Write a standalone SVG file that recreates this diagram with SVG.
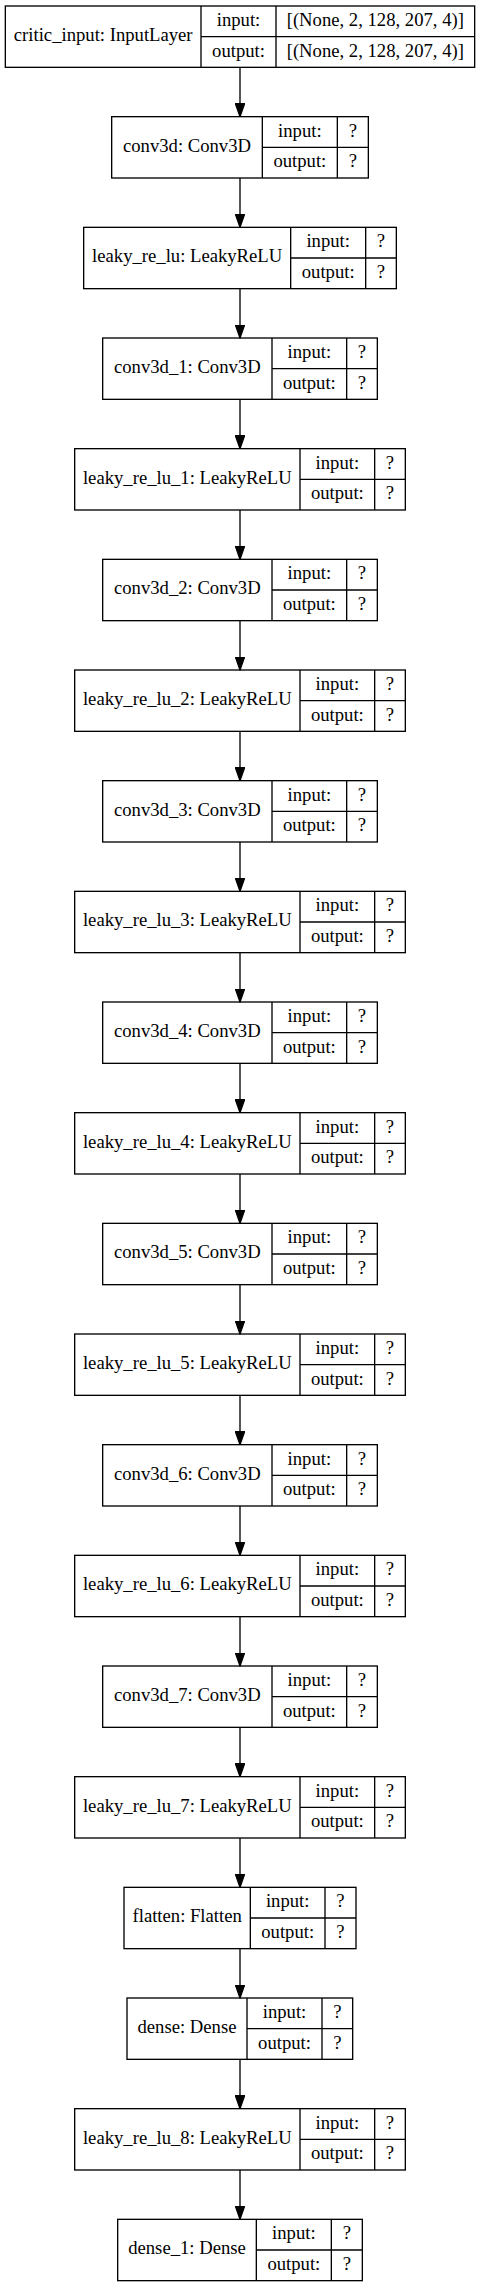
<svg xmlns="http://www.w3.org/2000/svg" width="480" height="2287" viewBox="0 0 480 2287">
<style>
.bg{fill:#ffffff}
.box{fill:none;stroke:#000;stroke-width:1.33}
.ln{stroke:#000;stroke-width:1.33}
text{font-family:"Liberation Serif","Times New Roman",serif;font-size:18.67px;fill:#000;text-anchor:middle}
.edge{stroke:#000;stroke-width:1.33;fill:none;marker-end:url(#ah)}
</style>
<defs>
<marker id="ah" markerUnits="userSpaceOnUse" markerWidth="14" markerHeight="10" refX="13.33" refY="4.67" orient="auto"><path d="M0,0 L13.33,4.67 L0,9.33 z" fill="#000" stroke="#000" stroke-width="1.33"/></marker>
</defs>
<rect class="bg" x="0" y="0" width="480" height="2287"/>
<g id="connectors">
<line class="edge" x1="240" y1="67.33" x2="240" y2="116.67"/>
<line class="edge" x1="240" y1="178" x2="240" y2="227.33"/>
<line class="edge" x1="240" y1="288.67" x2="240" y2="338"/>
<line class="edge" x1="240" y1="399.33" x2="240" y2="448.67"/>
<line class="edge" x1="240" y1="510" x2="240" y2="559.33"/>
<line class="edge" x1="240" y1="620.67" x2="240" y2="670"/>
<line class="edge" x1="240" y1="731.33" x2="240" y2="780.67"/>
<line class="edge" x1="240" y1="842" x2="240" y2="891.33"/>
<line class="edge" x1="240" y1="952.67" x2="240" y2="1002"/>
<line class="edge" x1="240" y1="1063.33" x2="240" y2="1112.67"/>
<line class="edge" x1="240" y1="1174" x2="240" y2="1223.33"/>
<line class="edge" x1="240" y1="1284.67" x2="240" y2="1334"/>
<line class="edge" x1="240" y1="1395.33" x2="240" y2="1444.67"/>
<line class="edge" x1="240" y1="1506" x2="240" y2="1555.33"/>
<line class="edge" x1="240" y1="1616.67" x2="240" y2="1666"/>
<line class="edge" x1="240" y1="1727.33" x2="240" y2="1776.67"/>
<line class="edge" x1="240" y1="1838" x2="240" y2="1887.33"/>
<line class="edge" x1="240" y1="1948.67" x2="240" y2="1998"/>
<line class="edge" x1="240" y1="2059.33" x2="240" y2="2108.67"/>
<line class="edge" x1="240" y1="2170" x2="240" y2="2219.33"/>
</g>

<g id="critic_input" transform="translate(0,6)">
<rect class="box" x="5.33" y="0" width="469.33" height="61.33"/>
<line class="ln" x1="201" y1="0" x2="201" y2="61.33"/><line class="ln" x1="276" y1="0" x2="276" y2="61.33"/><line class="ln" x1="201" y1="30.67" x2="474.67" y2="30.67"/>
<text x="103.2" y="35">critic_input: InputLayer</text>
<text x="238.5" y="20">input:</text><text x="238.5" y="50.5">output:</text>
<text x="375.3" y="20">[(None, 2, 128, 207, 4)]</text><text x="375.3" y="50.5">[(None, 2, 128, 207, 4)]</text>
</g>

<g id="conv3d" transform="translate(0,116.67)">
<rect class="box" x="111.67" y="0" width="256.67" height="61.33"/>
<line class="ln" x1="262.33" y1="0" x2="262.33" y2="61.33"/><line class="ln" x1="337.33" y1="0" x2="337.33" y2="61.33"/><line class="ln" x1="262.33" y1="30.67" x2="368.33" y2="30.67"/>
<text x="187" y="35">conv3d: Conv3D</text>
<text x="299.83" y="20">input:</text><text x="299.83" y="50.5">output:</text>
<text x="352.83" y="20">?</text><text x="352.83" y="50.5">?</text>
</g>

<g id="leaky_re_lu" transform="translate(0,227.33)">
<rect class="box" x="83.67" y="0" width="312.67" height="61.33"/>
<line class="ln" x1="290.67" y1="0" x2="290.67" y2="61.33"/><line class="ln" x1="365.67" y1="0" x2="365.67" y2="61.33"/><line class="ln" x1="290.67" y1="30.67" x2="396.33" y2="30.67"/>
<text x="187.17" y="35">leaky_re_lu: LeakyReLU</text>
<text x="328.17" y="20">input:</text><text x="328.17" y="50.5">output:</text>
<text x="381" y="20">?</text><text x="381" y="50.5">?</text>
</g>

<g id="conv3d_1" transform="translate(0,338)">
<rect class="box" x="102.67" y="0" width="274.67" height="61.33"/>
<line class="ln" x1="272" y1="0" x2="272" y2="61.33"/><line class="ln" x1="346.67" y1="0" x2="346.67" y2="61.33"/><line class="ln" x1="272" y1="30.67" x2="377.33" y2="30.67"/>
<text x="187.33" y="35">conv3d_1: Conv3D</text>
<text x="309.33" y="20">input:</text><text x="309.33" y="50.5">output:</text>
<text x="362" y="20">?</text><text x="362" y="50.5">?</text>
</g>

<g id="leaky_re_lu_1" transform="translate(0,448.67)">
<rect class="box" x="74.67" y="0" width="330.67" height="61.33"/>
<line class="ln" x1="300" y1="0" x2="300" y2="61.33"/><line class="ln" x1="374.67" y1="0" x2="374.67" y2="61.33"/><line class="ln" x1="300" y1="30.67" x2="405.33" y2="30.67"/>
<text x="187.33" y="35">leaky_re_lu_1: LeakyReLU</text>
<text x="337.33" y="20">input:</text><text x="337.33" y="50.5">output:</text>
<text x="390" y="20">?</text><text x="390" y="50.5">?</text>
</g>

<g id="conv3d_2" transform="translate(0,559.33)">
<rect class="box" x="102.67" y="0" width="274.67" height="61.33"/>
<line class="ln" x1="272" y1="0" x2="272" y2="61.33"/><line class="ln" x1="346.67" y1="0" x2="346.67" y2="61.33"/><line class="ln" x1="272" y1="30.67" x2="377.33" y2="30.67"/>
<text x="187.33" y="35">conv3d_2: Conv3D</text>
<text x="309.33" y="20">input:</text><text x="309.33" y="50.5">output:</text>
<text x="362" y="20">?</text><text x="362" y="50.5">?</text>
</g>

<g id="leaky_re_lu_2" transform="translate(0,670)">
<rect class="box" x="74.67" y="0" width="330.67" height="61.33"/>
<line class="ln" x1="300" y1="0" x2="300" y2="61.33"/><line class="ln" x1="374.67" y1="0" x2="374.67" y2="61.33"/><line class="ln" x1="300" y1="30.67" x2="405.33" y2="30.67"/>
<text x="187.33" y="35">leaky_re_lu_2: LeakyReLU</text>
<text x="337.33" y="20">input:</text><text x="337.33" y="50.5">output:</text>
<text x="390" y="20">?</text><text x="390" y="50.5">?</text>
</g>

<g id="conv3d_3" transform="translate(0,780.67)">
<rect class="box" x="102.67" y="0" width="274.67" height="61.33"/>
<line class="ln" x1="272" y1="0" x2="272" y2="61.33"/><line class="ln" x1="346.67" y1="0" x2="346.67" y2="61.33"/><line class="ln" x1="272" y1="30.67" x2="377.33" y2="30.67"/>
<text x="187.33" y="35">conv3d_3: Conv3D</text>
<text x="309.33" y="20">input:</text><text x="309.33" y="50.5">output:</text>
<text x="362" y="20">?</text><text x="362" y="50.5">?</text>
</g>

<g id="leaky_re_lu_3" transform="translate(0,891.33)">
<rect class="box" x="74.67" y="0" width="330.67" height="61.33"/>
<line class="ln" x1="300" y1="0" x2="300" y2="61.33"/><line class="ln" x1="374.67" y1="0" x2="374.67" y2="61.33"/><line class="ln" x1="300" y1="30.67" x2="405.33" y2="30.67"/>
<text x="187.33" y="35">leaky_re_lu_3: LeakyReLU</text>
<text x="337.33" y="20">input:</text><text x="337.33" y="50.5">output:</text>
<text x="390" y="20">?</text><text x="390" y="50.5">?</text>
</g>

<g id="conv3d_4" transform="translate(0,1002)">
<rect class="box" x="102.67" y="0" width="274.67" height="61.33"/>
<line class="ln" x1="272" y1="0" x2="272" y2="61.33"/><line class="ln" x1="346.67" y1="0" x2="346.67" y2="61.33"/><line class="ln" x1="272" y1="30.67" x2="377.33" y2="30.67"/>
<text x="187.33" y="35">conv3d_4: Conv3D</text>
<text x="309.33" y="20">input:</text><text x="309.33" y="50.5">output:</text>
<text x="362" y="20">?</text><text x="362" y="50.5">?</text>
</g>

<g id="leaky_re_lu_4" transform="translate(0,1112.67)">
<rect class="box" x="74.67" y="0" width="330.67" height="61.33"/>
<line class="ln" x1="300" y1="0" x2="300" y2="61.33"/><line class="ln" x1="374.67" y1="0" x2="374.67" y2="61.33"/><line class="ln" x1="300" y1="30.67" x2="405.33" y2="30.67"/>
<text x="187.33" y="35">leaky_re_lu_4: LeakyReLU</text>
<text x="337.33" y="20">input:</text><text x="337.33" y="50.5">output:</text>
<text x="390" y="20">?</text><text x="390" y="50.5">?</text>
</g>

<g id="conv3d_5" transform="translate(0,1223.33)">
<rect class="box" x="102.67" y="0" width="274.67" height="61.33"/>
<line class="ln" x1="272" y1="0" x2="272" y2="61.33"/><line class="ln" x1="346.67" y1="0" x2="346.67" y2="61.33"/><line class="ln" x1="272" y1="30.67" x2="377.33" y2="30.67"/>
<text x="187.33" y="35">conv3d_5: Conv3D</text>
<text x="309.33" y="20">input:</text><text x="309.33" y="50.5">output:</text>
<text x="362" y="20">?</text><text x="362" y="50.5">?</text>
</g>

<g id="leaky_re_lu_5" transform="translate(0,1334)">
<rect class="box" x="74.67" y="0" width="330.67" height="61.33"/>
<line class="ln" x1="300" y1="0" x2="300" y2="61.33"/><line class="ln" x1="374.67" y1="0" x2="374.67" y2="61.33"/><line class="ln" x1="300" y1="30.67" x2="405.33" y2="30.67"/>
<text x="187.33" y="35">leaky_re_lu_5: LeakyReLU</text>
<text x="337.33" y="20">input:</text><text x="337.33" y="50.5">output:</text>
<text x="390" y="20">?</text><text x="390" y="50.5">?</text>
</g>

<g id="conv3d_6" transform="translate(0,1444.67)">
<rect class="box" x="102.67" y="0" width="274.67" height="61.33"/>
<line class="ln" x1="272" y1="0" x2="272" y2="61.33"/><line class="ln" x1="346.67" y1="0" x2="346.67" y2="61.33"/><line class="ln" x1="272" y1="30.67" x2="377.33" y2="30.67"/>
<text x="187.33" y="35">conv3d_6: Conv3D</text>
<text x="309.33" y="20">input:</text><text x="309.33" y="50.5">output:</text>
<text x="362" y="20">?</text><text x="362" y="50.5">?</text>
</g>

<g id="leaky_re_lu_6" transform="translate(0,1555.33)">
<rect class="box" x="74.67" y="0" width="330.67" height="61.33"/>
<line class="ln" x1="300" y1="0" x2="300" y2="61.33"/><line class="ln" x1="374.67" y1="0" x2="374.67" y2="61.33"/><line class="ln" x1="300" y1="30.67" x2="405.33" y2="30.67"/>
<text x="187.33" y="35">leaky_re_lu_6: LeakyReLU</text>
<text x="337.33" y="20">input:</text><text x="337.33" y="50.5">output:</text>
<text x="390" y="20">?</text><text x="390" y="50.5">?</text>
</g>

<g id="conv3d_7" transform="translate(0,1666)">
<rect class="box" x="102.67" y="0" width="274.67" height="61.33"/>
<line class="ln" x1="272" y1="0" x2="272" y2="61.33"/><line class="ln" x1="346.67" y1="0" x2="346.67" y2="61.33"/><line class="ln" x1="272" y1="30.67" x2="377.33" y2="30.67"/>
<text x="187.33" y="35">conv3d_7: Conv3D</text>
<text x="309.33" y="20">input:</text><text x="309.33" y="50.5">output:</text>
<text x="362" y="20">?</text><text x="362" y="50.5">?</text>
</g>

<g id="leaky_re_lu_7" transform="translate(0,1776.67)">
<rect class="box" x="74.67" y="0" width="330.67" height="61.33"/>
<line class="ln" x1="300" y1="0" x2="300" y2="61.33"/><line class="ln" x1="374.67" y1="0" x2="374.67" y2="61.33"/><line class="ln" x1="300" y1="30.67" x2="405.33" y2="30.67"/>
<text x="187.33" y="35">leaky_re_lu_7: LeakyReLU</text>
<text x="337.33" y="20">input:</text><text x="337.33" y="50.5">output:</text>
<text x="390" y="20">?</text><text x="390" y="50.5">?</text>
</g>

<g id="flatten" transform="translate(0,1887.33)">
<rect class="box" x="124" y="0" width="232" height="61.33"/>
<line class="ln" x1="250.33" y1="0" x2="250.33" y2="61.33"/><line class="ln" x1="325" y1="0" x2="325" y2="61.33"/><line class="ln" x1="250.33" y1="30.67" x2="356" y2="30.67"/>
<text x="187.17" y="35">flatten: Flatten</text>
<text x="287.67" y="20">input:</text><text x="287.67" y="50.5">output:</text>
<text x="340.5" y="20">?</text><text x="340.5" y="50.5">?</text>
</g>

<g id="dense" transform="translate(0,1998)">
<rect class="box" x="127" y="0" width="225.67" height="61.33"/>
<line class="ln" x1="247" y1="0" x2="247" y2="61.33"/><line class="ln" x1="322" y1="0" x2="322" y2="61.33"/><line class="ln" x1="247" y1="30.67" x2="352.67" y2="30.67"/>
<text x="187" y="35">dense: Dense</text>
<text x="284.5" y="20">input:</text><text x="284.5" y="50.5">output:</text>
<text x="337.33" y="20">?</text><text x="337.33" y="50.5">?</text>
</g>

<g id="leaky_re_lu_8" transform="translate(0,2108.67)">
<rect class="box" x="74.67" y="0" width="330.67" height="61.33"/>
<line class="ln" x1="300" y1="0" x2="300" y2="61.33"/><line class="ln" x1="374.67" y1="0" x2="374.67" y2="61.33"/><line class="ln" x1="300" y1="30.67" x2="405.33" y2="30.67"/>
<text x="187.33" y="35">leaky_re_lu_8: LeakyReLU</text>
<text x="337.33" y="20">input:</text><text x="337.33" y="50.5">output:</text>
<text x="390" y="20">?</text><text x="390" y="50.5">?</text>
</g>

<g id="dense_1" transform="translate(0,2219.33)">
<rect class="box" x="117.67" y="0" width="244.67" height="61.33"/>
<line class="ln" x1="256.33" y1="0" x2="256.33" y2="61.33"/><line class="ln" x1="331.33" y1="0" x2="331.33" y2="61.33"/><line class="ln" x1="256.33" y1="30.67" x2="362.33" y2="30.67"/>
<text x="187" y="35">dense_1: Dense</text>
<text x="293.83" y="20">input:</text><text x="293.83" y="50.5">output:</text>
<text x="346.83" y="20">?</text><text x="346.83" y="50.5">?</text>
</g>
</svg>
